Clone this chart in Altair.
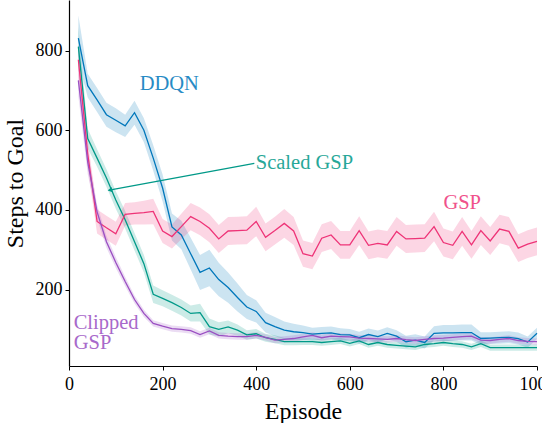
import altair as alt
import pandas as pd

# Evaluation episodes (every 20 episodes)
episodes = list(range(20, 1001, 20))

series_names = ["DDQN", "Scaled GSP", "GSP", "Clipped GSP"]
series_colors = ["#0077BB", "#009988", "#EE3377", "#9A4FC2"]

ddqn_mean = [831, 712, 676, 639, 625, 611, 644, 600, 530, 455,
             357, 337, 290, 243, 254, 225, 205, 180, 156, 145,
             117, 107, 98, 94, 92, 88, 90, 91, 87, 86,
             79, 87, 82, 90, 83, 69, 73, 67, 90, 91,
             91, 92, 92, 77, 78, 79, 80, 77, 68, 90]
ddqn_spread = [57, 30, 30, 30, 30, 28, 30, 30, 32, 34,
               34, 36, 40, 44, 46, 42, 38, 35, 30, 28,
               25, 24, 22, 20, 18, 16, 16, 16, 16, 15,
               15, 15, 15, 15, 15, 15, 15, 15, 18, 20,
               20, 20, 20, 16, 15, 15, 15, 15, 14, 14]

scaled_mean = [810, 579, 530, 480, 425, 375, 320, 265, 188, 178,
               167, 155, 140, 142, 107, 100, 106, 98, 86, 89,
               79, 75, 69, 69, 69, 69, 67, 69, 71, 65,
               71, 62, 67, 62, 60, 58, 56, 62, 64, 67,
               64, 62, 56, 64, 54, 54, 54, 54, 54, 54]
scaled_spread = [50, 25, 22, 22, 22, 22, 22, 22, 22, 20,
                 20, 20, 20, 22, 20, 18, 16, 14, 12, 12,
                 10, 10, 9, 9, 8, 8, 8, 8, 8, 8,
                 8, 8, 8, 8, 8, 8, 8, 8, 8, 8,
                 8, 8, 8, 8, 8, 8, 8, 8, 8, 8]

gsp_mean = [777, 540, 371, 355, 340, 389, 391, 393, 396, 347,
            333, 358, 383, 371, 354, 327, 347, 348, 349, 371,
            331, 348, 366, 347, 290, 284, 329, 337, 312, 312,
            348, 311, 316, 312, 346, 327, 328, 329, 358, 318,
            311, 346, 312, 348, 322, 352, 346, 304, 314, 321]
gsp_spread = [40, 35, 30, 30, 30, 28, 28, 30, 32, 30,
              30, 32, 34, 35, 35, 35, 35, 35, 35, 37,
              35, 35, 36, 35, 33, 33, 35, 35, 35, 35,
              36, 35, 35, 35, 36, 35, 35, 35, 37, 35,
              35, 36, 35, 36, 35, 36, 36, 35, 35, 35]

clipped_mean = [725, 520, 395, 320, 268, 220, 175, 140, 115, 108,
                102, 100, 97, 87, 96, 85, 83, 82, 82, 85,
                80, 73, 75, 77, 81, 85, 79, 83, 82, 81,
                78, 77, 76, 75, 77, 74, 72, 75, 77, 78,
                80, 82, 83, 73, 72, 75, 77, 72, 70, 69]
clipped_spread = [40, 30, 18, 15, 14, 12, 10, 9, 8, 8,
                  8, 8, 8, 8, 8, 8, 8, 8, 8, 8,
                  8, 8, 8, 8, 8, 8, 8, 8, 8, 8,
                  8, 8, 8, 8, 8, 8, 8, 8, 8, 8,
                  8, 8, 8, 8, 8, 8, 8, 8, 8, 8]

x_ticks = [0, 200, 400, 600, 800, 1000]
y_ticks = [200, 400, 600, 800]

FONT = "Liberation Serif"

rows = []
for name, means, spreads in [
    ("DDQN", ddqn_mean, ddqn_spread),
    ("Scaled GSP", scaled_mean, scaled_spread),
    ("GSP", gsp_mean, gsp_spread),
    ("Clipped GSP", clipped_mean, clipped_spread),
]:
    for ep, m, s in zip(episodes, means, spreads):
        rows.append({"episode": ep, "series": name, "mean": m,
                     "lo": m - s, "hi": m + s})
df = pd.DataFrame(rows)

x_scale = alt.Scale(domain=[0, 1000], nice=False, zero=False)
y_scale = alt.Scale(domain=[8, 927], nice=False, zero=False)
color_scale = alt.Scale(domain=series_names, range=series_colors)

x_enc = alt.X("episode:Q", scale=x_scale, title="Episode",
              axis=alt.Axis(values=x_ticks, format="d", labelFlush=False))
y_axis = alt.Axis(values=y_ticks, format="d", labelFlush=False)

base = alt.Chart(df)

bands = base.mark_area(opacity=0.2).encode(
    x=x_enc,
    y=alt.Y("lo:Q", scale=y_scale, title="Steps to Goal", axis=y_axis),
    y2="hi:Q",
    color=alt.Color("series:N", scale=color_scale, legend=None),
)

lines = base.mark_line(strokeWidth=1.3).encode(
    x=x_enc,
    y=alt.Y("mean:Q", scale=y_scale, title="Steps to Goal", axis=y_axis),
    color=alt.Color("series:N", scale=color_scale, legend=None),
)

# In-plot series labels
label_df = pd.DataFrame([
    {"episode": 151, "value": 716, "text": "DDQN", "series": "DDQN"},
    {"episode": 399, "value": 518, "text": "Scaled GSP", "series": "Scaled GSP"},
    {"episode": 800, "value": 417, "text": "GSP", "series": "GSP"},
    {"episode": 10, "value": 116, "text": "Clipped", "series": "Clipped GSP"},
    {"episode": 10, "value": 66, "text": "GSP", "series": "Clipped GSP"},
])
labels = alt.Chart(label_df).mark_text(
    align="left", baseline="middle", font=FONT, fontSize=20.5, opacity=0.85
).encode(
    x=alt.X("episode:Q", scale=x_scale),
    y=alt.Y("value:Q", scale=y_scale),
    text="text:N",
    color=alt.Color("series:N", scale=color_scale, legend=None),
)

# Arrow pointing from the "Scaled GSP" label to its curve
arrow_df = pd.DataFrame([{"x0": 396, "y0": 517, "x1": 89, "y1": 450}])
arrow_line = alt.Chart(arrow_df).mark_rule(
    color="#009988", strokeWidth=1.3
).encode(
    x=alt.X("x0:Q", scale=x_scale),
    y=alt.Y("y0:Q", scale=y_scale),
    x2="x1:Q",
    y2="y1:Q",
)
arrow_head = alt.Chart(arrow_df).mark_point(
    shape="triangle", filled=True, size=28, color="#009988",
    angle=259, opacity=1
).encode(
    x=alt.X("x1:Q", scale=x_scale),
    y=alt.Y("y1:Q", scale=y_scale),
)

chart = alt.layer(bands, lines, arrow_line, arrow_head, labels).properties(
    width=468,
    height=366,
    autosize=alt.AutoSizeParams(type="none"),
    padding={"left": 69, "top": 0, "right": 5, "bottom": 57},
).configure_view(
    stroke=None
).configure_axis(
    grid=False,
    domainColor="black",
    domainWidth=1.2,
    tickColor="black",
    tickWidth=1,
    tickSize=4,
    labelFont=FONT,
    labelFontSize=18,
    labelColor="black",
    labelPadding=3,
    titleFont=FONT,
    titleFontSize=24,
    titleFontWeight="normal",
    titleColor="black",
).configure_axisX(
    labelPadding=5,
    titlePadding=6,
).configure_axisY(
    titlePadding=8,
)

chart.save("out.html", embed_options={"renderer": "svg", "actions": False})
